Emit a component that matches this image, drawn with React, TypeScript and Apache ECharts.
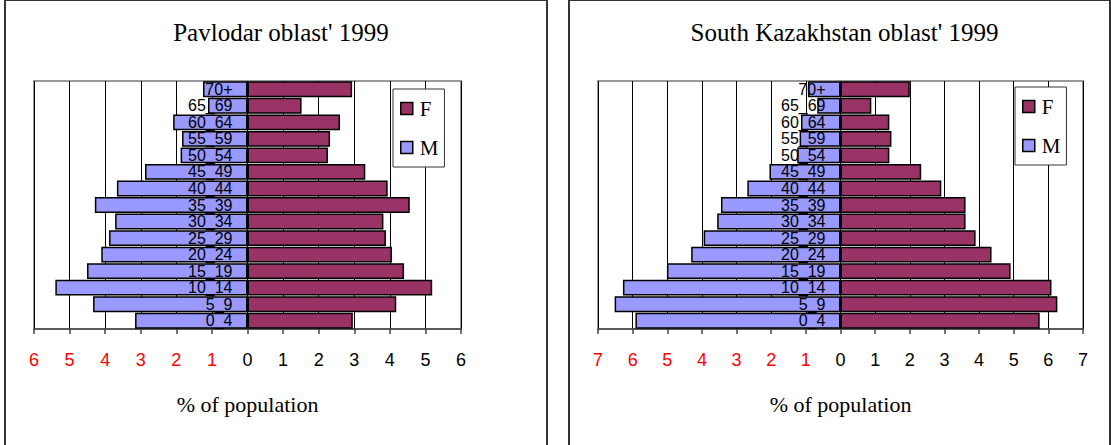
import React, { useEffect, useRef } from "react";
import * as echarts from "echarts";

const categories = ["0_4", "5_9", "10_14", "15_19", "20_24", "25_29", "30_34", "35_39", "40_44", "45_49", "50_54", "55_59", "60_64", "65_69", "70+"];

const pavlodarF = [2.96, 4.18, 5.19, 4.4, 4.06, 3.89, 3.82, 4.56, 3.94, 3.31, 2.26, 2.32, 2.6, 1.52, 2.94];
const pavlodarM = [3.16, 4.34, 5.4, 4.51, 4.11, 3.89, 3.72, 4.29, 3.67, 2.88, 1.88, 1.84, 2.09, 1.11, 1.25];

const southF = [5.75, 6.26, 6.09, 4.91, 4.36, 3.9, 3.61, 3.61, 2.91, 2.33, 1.41, 1.47, 1.41, 0.89, 2.0];
const southM = [5.92, 6.52, 6.28, 5.01, 4.31, 3.95, 3.56, 3.45, 2.69, 2.05, 1.25, 1.18, 1.14, 0.67, 0.94];

const titles = ["Pavlodar oblast' 1999", "South Kazakhstan oblast' 1999"];
const axisName = "% of population";
const axisMax = [6, 7];

const colorF = "#993366";
const colorM = "#9999ff";

export default function App() {
  const ref = useRef<HTMLDivElement>(null);
  useEffect(() => {
    const chart = echarts.init(ref.current!, null, { renderer: "svg" });
    const grids = [
      { left: 34, top: 81, width: 427, height: 248 },
      { left: 598, top: 81, width: 485, height: 248 },
    ];
    const panels = [
      { x: 5, w: 542 },
      { x: 569, w: 541 },
    ];
    const legendPos = [
      { left: 393, top: 89 },
      { left: 1015, top: 87 },
    ];
    const dataF = [pavlodarF, southF];
    const dataM = [pavlodarM, southM];
    const serif = "'Liberation Serif', 'DejaVu Serif', serif";

    const option: any = {
      animation: false,
      backgroundColor: "#ffffff",
      title: titles.map((t, i) => ({
        text: t,
        left: panels[i].x + panels[i].w / 2,
        textAlign: "center",
        top: 15,
        textStyle: { fontFamily: serif, fontSize: 25, fontWeight: "normal", color: "#000" },
      })),
      graphic: panels.map((p) => ({
        type: "rect",
        shape: { x: p.x, y: 0, width: p.w, height: 460 },
        style: { fill: "none", stroke: "#333", lineWidth: 2 },
        z: 100,
      })),
      legend: legendPos.map((lp) => ({
        data: ["F", "M"],
        orient: "vertical",
        left: lp.left,
        top: lp.top,
        itemWidth: 12,
        itemHeight: 12,
        itemGap: 18,
        icon: "rect",
        padding: [9, 6, 9, 7],
        backgroundColor: "#fff",
        borderColor: "#333",
        borderWidth: 1,
        borderRadius: 0,
        z: 10,
        textStyle: { fontFamily: serif, fontSize: 21, color: "#000", padding: [0, 0, 0, 2] },
        itemStyle: { borderColor: "#000", borderWidth: 1.5 },
      })),
      grid: grids.map((g) => ({
        ...g,
        show: true,
        containLabel: false,
        outerBoundsMode: "none",
        borderColor: "#999",
        borderWidth: 2,
        backgroundColor: "#fff",
      })),
      xAxis: grids.map((_, i) => ({
        type: "value",
        gridIndex: i,
        min: -axisMax[i],
        max: axisMax[i],
        interval: 1,
        name: `{s|${axisName}}`,
        nameLocation: "middle",
        nameGap: 64,
        nameTextStyle: {
          fontFamily: serif,
          fontSize: 22,
          color: "#000",
          rich: { s: { fontFamily: serif, fontSize: 22, color: "#000" } },
        },
        axisLine: { show: true, onZero: false, lineStyle: { color: "#444", width: 1.5 } },
        axisTick: { show: true, length: 5, lineStyle: { color: "#444", width: 1.5 } },
        splitLine: { show: true, lineStyle: { color: "#000", width: 1 } },
        axisLabel: {
          margin: 22,
          fontFamily: "Liberation Sans",
          fontSize: 18,
          formatter: (v: number) => (v < 0 ? `{r|${-v}}` : `{b|${v}}`),
          rich: {
            r: { color: "#ff0000", fontFamily: "Liberation Sans", fontSize: 18 },
            b: { color: "#000000", fontFamily: "Liberation Sans", fontSize: 18 },
          },
        },
      })),
      yAxis: grids.map((g, i) => ({
        type: "category",
        gridIndex: i,
        data: categories,
        z: 5,
        position: "left",
        offset: -(g.width / 2),
        axisLine: { show: false, onZero: false },
        axisTick: { show: false },
        splitLine: { show: false },
        axisLabel: {
          interval: 0,
          margin: 15,
          fontFamily: "Liberation Sans",
          fontSize: 16,
          lineHeight: 16,
          color: "#000",
        },
      })),
      series: [0, 1].flatMap((i) => [
        {
          name: "F",
          type: "bar",
          xAxisIndex: i,
          yAxisIndex: i,
          stack: "s" + i,
          barCategoryGap: "4%",
          data: dataF[i],
          itemStyle: { color: colorF, borderColor: "#000", borderWidth: 1.5 },
        },
        {
          name: "M",
          type: "bar",
          xAxisIndex: i,
          yAxisIndex: i,
          stack: "s" + i,
          barCategoryGap: "4%",
          data: dataM[i].map((v) => -v),
          itemStyle: { color: colorM, borderColor: "#000", borderWidth: 1.5 },
        },
      ]),
    };
    chart.setOption(option);
    return () => chart.dispose();
  }, []);
  return (
    <div
      ref={ref}
      style={{ position: "absolute", left: 0, top: 0, width: 1111, height: 445 }}
    />
  );
}
